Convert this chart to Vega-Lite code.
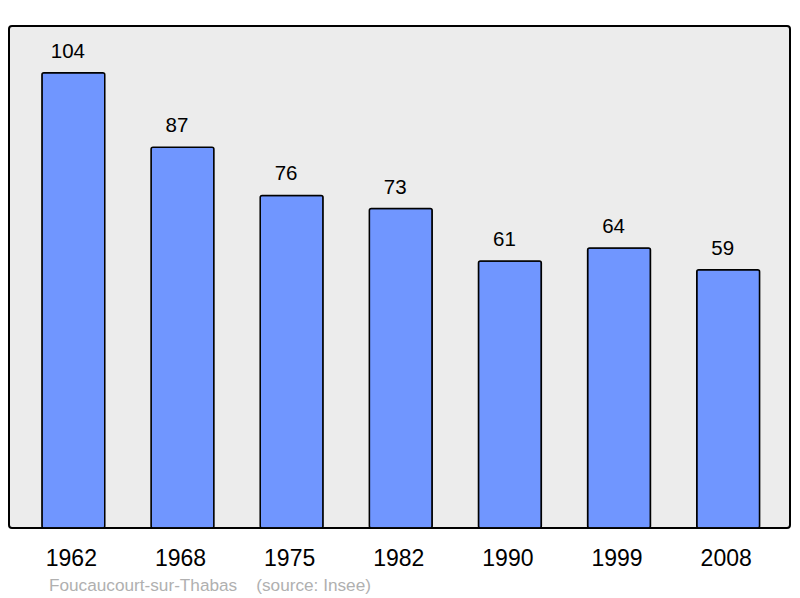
{
  "$schema": "https://vega.github.io/schema/vega-lite/v6.json",
  "autosize": "none",
  "width": 781,
  "height": 502,
  "padding": {"left": 9, "top": 26, "right": 10, "bottom": 70},
  "background": "white",
  "config": {
    "view": {"fill": "#ececec", "stroke": "black", "strokeWidth": 2, "cornerRadius": 3},
    "font": "Liberation Sans"
  },
  "title": {
    "text": "Foucaucourt-sur-Thabas\u00a0\u00a0\u00a0\u00a0(source: Insee)",
    "orient": "bottom",
    "anchor": "start",
    "frame": "group",
    "dx": 40,
    "offset": 7,
    "fontSize": 17.2,
    "fontWeight": "normal",
    "color": "#b0b0b0",
    "font": "Liberation Sans"
  },
  "data": {
    "values": [
      {"year": "1962", "pop": 104},
      {"year": "1968", "pop": 87},
      {"year": "1975", "pop": 76},
      {"year": "1982", "pop": 73},
      {"year": "1990", "pop": 61},
      {"year": "1999", "pop": 64},
      {"year": "2008", "pop": 59}
    ]
  },
  "encoding": {
    "x": {
      "field": "year",
      "type": "nominal",
      "sort": null,
      "scale": {"paddingInner": 0.424, "paddingOuter": 0.29, "align": 0.52},
      "axis": {
        "title": null,
        "labelAngle": 0,
        "labelFontSize": 23,
        "labelColor": "black",
        "labelPadding": 19,
        "labelOffset": -2,
        "ticks": false,
        "tickSize": 0,
        "domain": false,
        "grid": false
      }
    },
    "y": {
      "field": "pop",
      "type": "quantitative",
      "scale": {"domain": [0, 114.7], "nice": false, "zero": true},
      "axis": null
    }
  },
  "layer": [
    {
      "mark": {"type": "bar", "fill": "#7096ff", "stroke": "black", "strokeWidth": 1.5, "cornerRadius": 2}
    },
    {
      "mark": {"type": "text", "baseline": "alphabetic", "dy": -15, "dx": -5.5, "fontSize": 20.5, "color": "black"},
      "encoding": {"text": {"field": "pop", "type": "quantitative"}}
    }
  ]
}
